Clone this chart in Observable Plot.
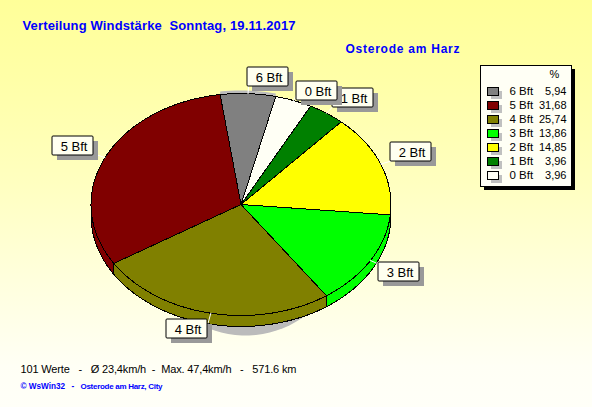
<!DOCTYPE html>
<html><head><meta charset="utf-8">
<script src="https://cdn.jsdelivr.net/npm/d3@7"></script>
<script src="https://cdn.jsdelivr.net/npm/@observablehq/plot@0.6"></script>
<style>
html,body{margin:0;padding:0;background:#fffff5}
svg{display:block}
</style></head><body>
<script>
const categories = ["6 Bft","0 Bft","1 Bft","2 Bft","3 Bft","4 Bft","5 Bft"];
const shares = [5.94,3.96,3.96,14.85,13.86,25.74,31.68];
const sliceColors = ["#808080","#fffff5","#008000","#ffff00","#00ff00","#808000","#800000"];
const legendOrder = ["6 Bft","5 Bft","4 Bft","3 Bft","2 Bft","1 Bft","0 Bft"];
const legendValues = [5.94,31.68,25.74,13.86,14.85,3.96,3.96];
const legendColors = ["#808080","#800000","#808000","#00ff00","#ffff00","#008000","#fffff5"];
const titleText = "Verteilung Windstärke  Sonntag, 19.11.2017";
const stationText = "Osterode am Harz";
const statsText = "101 Werte   -   Ø 23,4km/h  -  Max. 47,4km/h   -   571.6 km";
const creditA = "© WsWin32";
const creditB = "-";
const creditC = "Osterode am Harz, City";

const pie = {cx:240.5, cy:204, rx:150, ry:111, depth:11, start:-8};
const total = d3.sum(shares);
const pt = (deg,dy=0,k=1)=>{const a=deg*Math.PI/180;return {x:pie.cx+k*pie.rx*Math.sin(a),y:pie.cy-k*pie.ry*Math.cos(a)+dy}};
const arc = (a0,a1,dy=0)=>{const n=Math.max(2,Math.ceil(Math.abs(a1-a0)/2));return d3.range(n+1).map(i=>pt(a0+(a1-a0)*i/n,dy))};

let acc = pie.start;
const slices = categories.map((name,i)=>{const a0=acc;acc+=shares[i]/total*360;return {name,color:sliceColors[i],a0,a1:acc,mid:(a0+acc)/2}});

const topPts = slices.flatMap(s=>{const p=[{x:pie.cx,y:pie.cy},...arc(s.a0,s.a1),{x:pie.cx,y:pie.cy}];return p.map(q=>({...q,k:s.name,color:s.color}))});
const wallPts = slices.flatMap(s=>{
  const a0=Math.max(s.a0,90),a1=Math.min(s.a1,270);
  if(a1<=a0) return [];
  const top=arc(a0,a1),bot=arc(a0,a1,pie.depth).reverse();
  return [...top,...bot,top[0]].map(q=>({...q,k:s.name,color:s.color}));
});
const s6 = slices[0];
const rimPts = [...arc(s6.a0,s6.a1,-3),...arc(s6.a0,s6.a1).reverse()];
rimPts.push(rimPts[0]);
const shade = {cx:245,cy:235,r:100};
const shadePts = d3.range(0,361,4).map(a=>({x:shade.cx+shade.r*Math.cos(a*Math.PI/180),y:shade.cy+shade.r*Math.sin(a*Math.PI/180)}));
const leaders = slices.flatMap(s=>{const a=pt(s.mid),b=pt(s.mid,0,1.09);return [{...a,k:s.name},{...b,k:s.name}]});

// label boxes, painted in this order
const boxW=41, boxH=19;
const labelBoxes = [
  {name:"5 Bft",x:52,y:136},{name:"4 Bft",x:166,y:319},{name:"3 Bft",x:378,y:262},
  {name:"2 Bft",x:390,y:142},{name:"1 Bft",x:332,y:88},{name:"6 Bft",x:247,y:67},{name:"0 Bft",x:296,y:81}
];
const labelMarks = labelBoxes.flatMap(b=>[
  Plot.rect([b],{x1:d=>d.x+5,x2:d=>d.x+boxW+5,y1:d=>d.y+5,y2:d=>d.y+boxH+5,fill:"#999999",shapeRendering:"crispEdges"}),
  Plot.rect([b],{x1:"x",x2:d=>d.x+boxW,y1:"y",y2:d=>d.y+boxH,fill:"#fffff0",stroke:"#000",strokeWidth:1,rx:1}),
  Plot.text([b],{x:d=>d.x+boxW/2+1,y:d=>d.y+boxH/2+.5,text:"name",fontSize:13,fontFamily:"Liberation Sans",fill:"#000"})
]);

// legend
const lg = {x1:480,x2:571,y1:65,y2:186,row0:91,step:14,swatch:487,swatchW:11,swatchH:8,name:509,val:566};
const lgRows = legendOrder.map((name,i)=>({name,val:legendValues[i].toFixed(2).replace(".",","),color:legendColors[i],y:lg.row0+i*lg.step}));

const txt = (t,x,y,o)=>Plot.text([t],{x:()=>x,y:()=>y,text:d=>d,textAnchor:"start",fontFamily:"Liberation Sans",...o});

const chart = Plot.plot({
  width:592,height:407,margin:0,
  style:{background:"linear-gradient(180deg,#ffff99 0%,#ffffa8 20%,#ffffc0 45%,#ffffdc 68%,#fffff5 90%,#fffff8 100%)",overflow:"visible"},
  x:{domain:[0,592],range:[0,592],axis:null},
  y:{domain:[0,407],range:[0,407],axis:null},
  color:{type:"identity"},
  marks:[
    txt(titleText,22,25,{fontSize:13,fontWeight:"bold",fill:"#0000ff"}),
    txt(stationText,345,49,{fontSize:12,fontWeight:"bold",fill:"#0000ff"}),
    Plot.line(shadePts,{x:"x",y:"y",fill:"#bbbbbb",stroke:"none"}),
    Plot.line(rimPts,{x:"x",y:"y",fill:"#bbbbbb",stroke:"none"}),
    Plot.line(wallPts,{x:"x",y:"y",z:"k",fill:"color",stroke:"#000",strokeWidth:1,shapeRendering:"crispEdges"}),
    Plot.line(topPts,{x:"x",y:"y",z:"k",fill:"color",stroke:"#000",strokeWidth:1,shapeRendering:"crispEdges"}),
    Plot.line(leaders,{x:"x",y:"y",z:"k",stroke:"#ffffff",strokeWidth:1}),
    ...labelMarks,
    Plot.rect([lg],{x1:d=>d.x1+4,x2:d=>d.x2+4,y1:d=>d.y1+4,y2:d=>d.y2+4,fill:"#000",shapeRendering:"crispEdges"}),
    Plot.rect([lg],{x1:"x1",x2:"x2",y1:"y1",y2:"y2",fill:"#fffff5",stroke:"#000",strokeWidth:1,shapeRendering:"crispEdges"}),
    txt("%",549,74,{fontSize:11,fill:"#000"}),
    Plot.rect(lgRows,{x1:()=>lg.swatch+4,x2:()=>lg.swatch+lg.swatchW+4,y1:d=>d.y-lg.swatchH/2+4,y2:d=>d.y+lg.swatchH/2+4,fill:"#c0c0c0",shapeRendering:"crispEdges"}),
    Plot.rect(lgRows,{x1:()=>lg.swatch,x2:()=>lg.swatch+lg.swatchW,y1:d=>d.y-lg.swatchH/2,y2:d=>d.y+lg.swatchH/2,fill:"color",stroke:"#000",strokeWidth:1,shapeRendering:"crispEdges"}),
    Plot.text(lgRows,{x:()=>lg.name,y:"y",text:"name",textAnchor:"start",fontSize:11.5,fontFamily:"Liberation Sans",fill:"#000"}),
    Plot.text(lgRows,{x:()=>lg.val,y:"y",text:"val",textAnchor:"end",fontSize:11,fontFamily:"Liberation Sans",fill:"#000"}),
    txt(statsText,20,369,{fontSize:11,fill:"#000"}),
    txt(creditA,20,386,{fontSize:8.2,fontWeight:"bold",fill:"#0000ff"}),
    txt(creditB,71,386,{fontSize:8.2,fontWeight:"bold",fill:"#0000ff"}),
    txt(creditC,80,386,{fontSize:8,fontWeight:"bold",fill:"#0000ff"})
  ]
});
// exact run lengths of the long strings
const runLengths = new Map([[titleText,273],[stationText,114],[statsText,276],[creditC,82]]);
chart.querySelectorAll("text").forEach(t=>{
  const w = runLengths.get(t.textContent);
  if(w) t.setAttribute("textLength",w);
});
document.body.appendChild(chart);
</script></body></html>
